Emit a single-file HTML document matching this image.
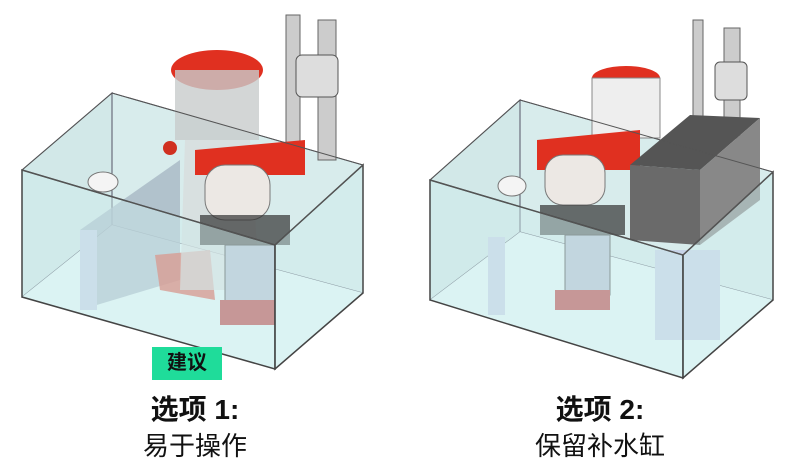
<!DOCTYPE html>
<html><head><meta charset="utf-8"><style>
body{margin:0;background:#fff;width:800px;height:472px;overflow:hidden;position:relative;font-family:"Liberation Sans","Noto Sans CJK SC",sans-serif}
.t{position:absolute;text-align:center;color:#111}
</style></head><body>
<svg width="800" height="472" style="position:absolute;left:0;top:0">
<g id="tank1">
<!-- back/inside -->
<polygon points="112,93 363,165 363,293 112,225" fill="#d8ecec" stroke="#556" stroke-width="1"/>
<polygon points="22,170 112,93 112,225 22,297" fill="#d2e8e8" stroke="#556"/>
<polygon points="22,297 112,225 363,293 275,369" fill="#e6f8f8"/>
<!-- baffle -->
<polygon points="80,230 180,160 180,280 80,310" fill="#a8b8c4" opacity=".8"/>
<polygon points="80,230 97,230 97,310 80,310" fill="#c8d4e8"/>
<!-- skimmer body -->
<polygon points="155,255 210,250 215,300 160,290" fill="#e05a4a" opacity=".8"/>
<ellipse cx="217" cy="70" rx="46" ry="20" fill="#e03020"/>
<rect x="175" y="70" width="84" height="70" fill="#c8cccc" opacity=".8"/>
<polygon points="185,140 250,140 260,290 180,290" fill="#d8dcdc" opacity=".7"/>
<rect x="286" y="15" width="14" height="140" fill="#ccc" stroke="#666"/>
<rect x="318" y="20" width="18" height="140" fill="#ccc" stroke="#666"/>
<rect x="296" y="55" width="42" height="42" rx="6" fill="#ddd" stroke="#555"/>
<polygon points="195,150 305,140 305,175 195,175" fill="#e03020"/>
<rect x="205" y="165" width="65" height="55" rx="20" fill="#ece8e4" stroke="#777"/>
<rect x="200" y="215" width="90" height="30" fill="#333" opacity=".7"/>
<rect x="225" y="245" width="50" height="60" fill="#b8c4d4" stroke="#555"/>
<rect x="220" y="300" width="55" height="25" fill="#c05050"/>
<ellipse cx="103" cy="182" rx="15" ry="10" fill="#f4f4f4" stroke="#777"/>
<circle cx="170" cy="148" r="7" fill="#d03020"/>
<!-- front glass -->
<polygon points="22,170 275,245 275,369 22,297" fill="#cfeeee" fill-opacity=".45" stroke="#444" stroke-width="1.5"/>
<polygon points="275,245 363,165 363,293 275,369" fill="#cfeeee" fill-opacity=".45" stroke="#444" stroke-width="1.5"/>
<polygon points="22,170 112,93 363,165 275,245" fill="none" stroke="#555"/>
</g>
<g id="tank2">
<polygon points="520,100 773,172 773,300 520,232" fill="#d8ecec" stroke="#556"/>
<polygon points="430,180 520,100 520,232 430,300" fill="#d2e8e8" stroke="#556"/>
<polygon points="430,300 520,232 773,300 683,378" fill="#e6f8f8"/>
<polygon points="488,237 505,237 505,315 488,315" fill="#c8d4e8"/>
<polygon points="655,250 720,250 720,340 655,340" fill="#c8d4e8"/>
<ellipse cx="626" cy="78" rx="34" ry="12" fill="#e03020"/>
<rect x="592" y="78" width="68" height="60" fill="#eee" stroke="#888"/>
<rect x="693" y="20" width="10" height="110" fill="#ccc" stroke="#666"/>
<rect x="724" y="28" width="16" height="110" fill="#ccc" stroke="#666"/>
<rect x="715" y="62" width="32" height="38" rx="5" fill="#ddd" stroke="#555"/>
<polygon points="537,140 640,130 640,170 537,170" fill="#e03020"/>
<rect x="545" y="155" width="60" height="50" rx="18" fill="#ece8e4" stroke="#777"/>
<rect x="540" y="205" width="85" height="30" fill="#333" opacity=".7"/>
<rect x="565" y="235" width="45" height="60" fill="#b8c4d4" stroke="#555"/>
<rect x="555" y="290" width="55" height="20" fill="#c05050"/>
<ellipse cx="512" cy="186" rx="14" ry="10" fill="#f4f4f4" stroke="#777"/>
<polygon points="630,165 690,115 760,118 700,170" fill="#555"/>
<polygon points="630,165 700,170 700,245 630,240" fill="#6a6a6a"/>
<polygon points="700,170 760,118 760,200 700,245" fill="#888"/>
<polygon points="430,180 683,255 683,378 430,300" fill="#cfeeee" fill-opacity=".45" stroke="#444" stroke-width="1.5"/>
<polygon points="683,255 773,172 773,300 683,378" fill="#cfeeee" fill-opacity=".45" stroke="#444" stroke-width="1.5"/>
<polygon points="430,180 520,100 773,172 683,255" fill="none" stroke="#555"/>
</g>
</svg>
<div style="position:absolute;left:152px;top:347px;width:70px;height:33px;background:#1fdc9a;color:#111;font-weight:bold;font-size:20px;line-height:33px;text-align:center">建议</div>
<div class="t" style="left:95px;top:390px;width:200px;font-size:28px;font-weight:bold;line-height:40px">选项 1:</div>
<div class="t" style="left:95px;top:428px;width:200px;font-size:26px;line-height:36px">易于操作</div>
<div class="t" style="left:500px;top:390px;width:200px;font-size:28px;font-weight:bold;line-height:40px">选项 2:</div>
<div class="t" style="left:500px;top:428px;width:200px;font-size:26px;line-height:36px">保留补水缸</div>
</body></html>
